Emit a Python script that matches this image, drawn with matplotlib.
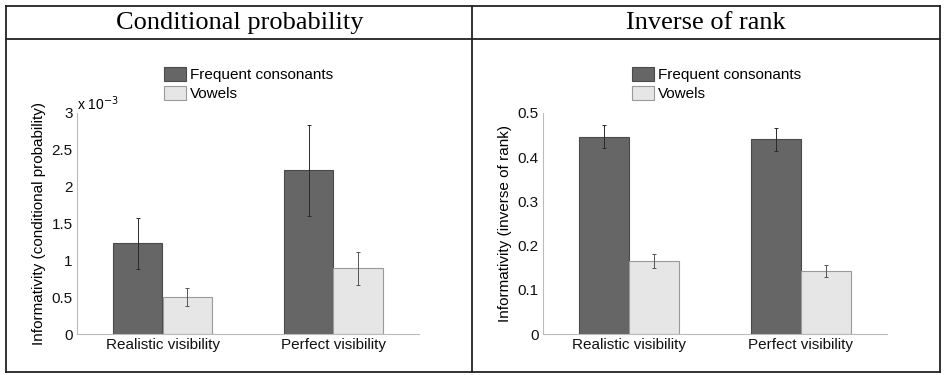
import matplotlib
matplotlib.use("Agg")
import matplotlib.pyplot as plt
from matplotlib.lines import Line2D
from matplotlib.ticker import FuncFormatter
import numpy as np

conditions = ["Realistic visibility", "Perfect visibility"]
series = ["Frequent consonants", "Vowels"]

# conditional probability, in units of 1e-3
cond_cons = [1.23, 2.22]
cond_cons_err = [0.35, 0.62]
cond_vow = [0.50, 0.89]
cond_vow_err = [0.12, 0.22]

# inverse of rank
rank_cons = [0.446, 0.441]
rank_cons_err = [0.026, 0.026]
rank_vow = [0.165, 0.142]
rank_vow_err = [0.016, 0.013]

titles = ["Conditional probability", "Inverse of rank"]
ylabels = ["Informativity (conditional probability)", "Informativity (inverse of rank)"]

W, H = 945, 375
fig = plt.figure(figsize=(W / 100, H / 100), dpi=100)
plt.rcParams["font.family"] = "Liberation Sans"

def fx(px):
    return px / W

def fy(py):
    return 1 - py / H

dark = "#666666"
light = "#e6e6e6"
gfmt = FuncFormatter(lambda v, p: "%g" % round(v, 3))

def panel(ax, cons, cons_err, vow, vow_err, ymax, yticks, ylabel):
    x = np.arange(1, len(conditions) + 1)
    w = 0.29
    ax.bar(x - w / 2, cons, w, color=dark, edgecolor="#4a4a4a", linewidth=0.8,
           label=series[0], zorder=2)
    ax.bar(x + w / 2, vow, w, color=light, edgecolor="#9a9a9a", linewidth=0.8,
           label=series[1], zorder=2)
    ax.errorbar(x - w / 2, cons, yerr=cons_err, fmt="none", ecolor="#2a2a2a",
                elinewidth=0.7, capsize=1.5, capthick=0.7, zorder=3)
    ax.errorbar(x + w / 2, vow, yerr=vow_err, fmt="none", ecolor="#555555",
                elinewidth=0.7, capsize=1.5, capthick=0.7, zorder=3)
    ax.set_xlim(0.5, 2.5)
    ax.set_ylim(0, ymax)
    ax.set_yticks(yticks)
    ax.yaxis.set_major_formatter(gfmt)
    ax.set_xticks(x)
    ax.set_xticklabels(conditions)
    for s in ["top", "right"]:
        ax.spines[s].set_visible(False)
    for s in ["left", "bottom"]:
        ax.spines[s].set_color("#bbbbbb")
        ax.spines[s].set_linewidth(0.8)
    ax.tick_params(length=0, labelsize=11, pad=3, colors="#111111")
    ax.set_ylabel(ylabel, fontsize=11, labelpad=4)
    ax.set_facecolor("none")

ax1 = fig.add_axes([fx(77), fy(334), fx(342), 221 / H])
panel(ax1, cond_cons, cond_cons_err, cond_vow, cond_vow_err, 3,
      [0, 0.5, 1, 1.5, 2, 2.5, 3], ylabels[0])
ax1.text(0.0, 1.0, r"x 10$^{-3}$", transform=ax1.transAxes, fontsize=10,
         ha="left", va="bottom")

ax2 = fig.add_axes([fx(543), fy(334), fx(344), 221 / H])
panel(ax2, rank_cons, rank_cons_err, rank_vow, rank_vow_err, 0.5,
      [0, 0.1, 0.2, 0.3, 0.4, 0.5], ylabels[1])

for ax, lx in [(ax1, 164), (ax2, 632)]:
    ax.legend(loc="upper left", bbox_to_anchor=(fx(lx), fy(67)),
              bbox_transform=fig.transFigure, frameon=False, fontsize=11,
              borderpad=0, handlelength=1.45, handleheight=1.0,
              handletextpad=0.25, labelspacing=0.25, borderaxespad=0)

# table borders
lw = 1.3
col = "#222222"
for (x0, y0, x1, y1) in [(6, 6, 940, 6), (6, 372, 940, 372), (6, 6, 6, 372),
                         (940, 6, 940, 372), (472, 6, 472, 372), (6, 39, 940, 39)]:
    fig.add_artist(Line2D([fx(x0), fx(x1)], [fy(y0), fy(y1)], color=col,
                          linewidth=lw, transform=fig.transFigure))

fig.text(fx(240), fy(23), titles[0], family="Liberation Serif", fontsize=19,
         ha="center", va="center")
fig.text(fx(706), fy(23), titles[1], family="Liberation Serif", fontsize=19,
         ha="center", va="center")

fig.savefig("out.png", dpi=100)
